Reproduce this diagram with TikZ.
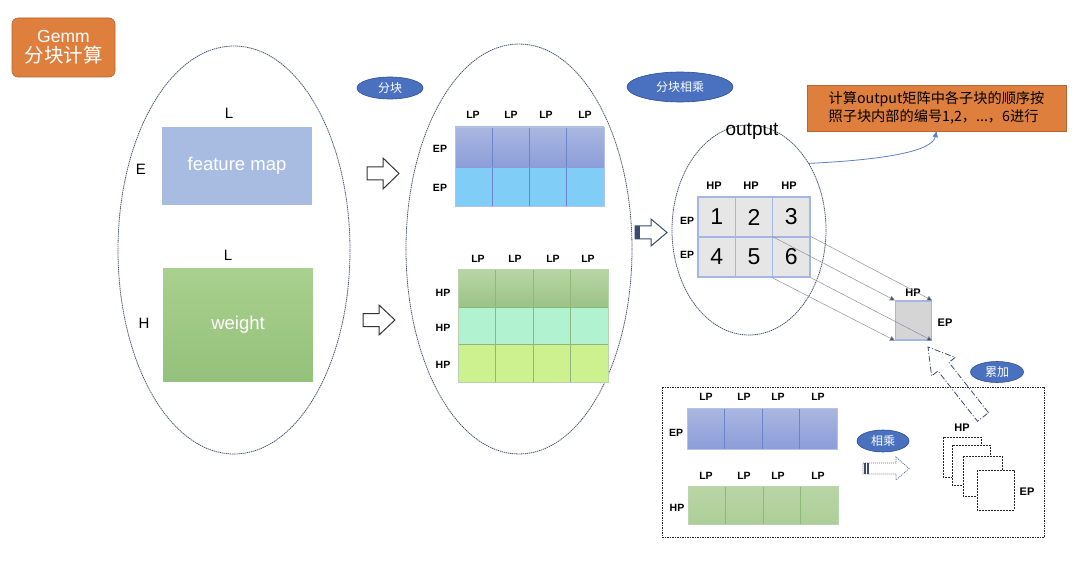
\documentclass[tikz,border=0pt]{standalone}
\usepackage{fontspec}
\setmainfont{Liberation Sans}
\newfontfamily\cjk{Noto Sans CJK SC}
\usetikzlibrary{shapes.geometric,arrows.meta,calc}
\definecolor{orng}{HTML}{DF7F3E}
\definecolor{orngdark}{HTML}{B8642C}
\definecolor{ellline}{HTML}{4A5572}
\definecolor{tagfill}{HTML}{4A70C0}
\definecolor{tagline}{HTML}{2E4F8F}
\definecolor{fmblue}{HTML}{A8BCE2}
\definecolor{wtop}{HTML}{A9D08E}
\definecolor{wbot}{HTML}{94C17B}
\definecolor{btop}{HTML}{AAB7E0}
\definecolor{bbot}{HTML}{8C9DD9}
\definecolor{bline}{HTML}{6C84C8}
\definecolor{skyb}{HTML}{80CDF7}
\definecolor{gtop}{HTML}{B8D6A4}
\definecolor{gbot}{HTML}{9CC288}
\definecolor{gline}{HTML}{8DB87A}
\definecolor{mint}{HTML}{B1F2D0}
\definecolor{lime}{HTML}{CCF18E}
\definecolor{cellgray}{HTML}{E6E6E6}
\definecolor{cellline}{HTML}{A3B6E4}
\definecolor{sqgray}{HTML}{D5D5D5}
\definecolor{projline}{HTML}{8C909C}
\definecolor{projtip}{HTML}{3F4E6E}
\definecolor{curveblue}{HTML}{5B80C8}
\definecolor{arrdark}{HTML}{3B4B70}
\tikzset{
  bigell/.style={ellipse, draw=ellline, line width=0.8pt, dash pattern=on 1.4pt off 0.7pt, inner sep=0pt},
  tag/.style={ellipse, fill=tagfill, draw=tagline, line width=0.6pt, text=white, inner sep=0pt, font=\cjk\fontsize{12}{14}\selectfont},
  lbl/.style={font=\bfseries\fontsize{10.5}{12}\selectfont, inner sep=0pt},
  biglbl/.style={font=\fontsize{15}{17}\selectfont, inner sep=0pt},
  numcell/.style={draw=cellline, line width=1.2pt, fill=cellgray, minimum width=37.33pt, minimum height=40pt, inner sep=0pt, font=\fontsize{23}{26}\selectfont},
  hollow/.style={draw=black!80, line width=1pt, fill=white, line join=miter},
  proj/.style={draw=projline, line width=0.5pt, -{Triangle[length=5pt,width=5pt,fill=projtip]}},
  dsq/.style={draw=black!85, fill=white, line width=0.8pt, dash pattern=on 2pt off 1pt}
}
\begin{document}
\begin{tikzpicture}[x=1pt,y=-1pt]
\useasboundingbox (0,0) rectangle (1080,567);
\fill[white] (0,0) rectangle (1080,567);

% title box
\node[fill=orng, draw=orngdark, line width=0.6pt, rounded corners=6pt, minimum width=103pt, minimum height=59pt, text=white, align=center, inner sep=0pt, font=\fontsize{17.5}{21}\selectfont] (gemm) at (63.5,47.5) {Gemm\\[-1pt]{\cjk\fontsize{19.5}{22}\selectfont 分块计算}};

% big ellipses
\node[bigell, minimum width=232pt, minimum height=408pt] (e1) at (234,250) {};
\node[bigell, minimum width=226pt, minimum height=410pt] (e2) at (519,249) {};
\node[bigell, minimum width=154pt, minimum height=210pt] (e3) at (749,230) {};

% left ellipse content
\node[biglbl] (lL1) at (229,113) {L};
\node[fill=fmblue, minimum width=150pt, minimum height=78pt, inner sep=0pt, text=white, font=\fontsize{18.5}{21}\selectfont] (fm) at (237,166) {feature map};
\node[biglbl] (lE) at (141,169) {E};
\node[biglbl] (lL2) at (228,255) {L};
\node[top color=wtop, bottom color=wbot, minimum width=150pt, minimum height=113pt, inner sep=0pt, text=white, font=\fontsize{18.5}{21}\selectfont] (wt) at (238,324.5) {weight};
\node[biglbl] (lH) at (144,323) {H};

% hollow arrows
\draw[hollow] (367,167) -- (383,167) -- (383,158) -- (399,173.5) -- (383,189) -- (383,180) -- (367,180) -- cycle;
\draw[hollow] (363,313.5) -- (379,313.5) -- (379,305) -- (395,320) -- (379,335) -- (379,326.5) -- (363,326.5) -- cycle;

% tags
\node[tag, minimum width=66pt, minimum height=22pt] (t1) at (390,88) {分块};
\node[tag, minimum width=106pt, minimum height=30pt] (t2) at (680,87) {分块相乘};

% grid 1 (feature map blocks)
\shade[top color=btop, bottom color=bbot] (455,127) rectangle (604,167);
\fill[skyb] (455,167) rectangle (604,206);
\foreach \i in {1,2,3} \draw[bline, line width=0.8pt] ({455+37.25*\i},127) -- ({455+37.25*\i},206);
\draw[bline!80, line width=0.8pt] (455,167) -- (604,167);
\draw[bline!50, line width=0.5pt] (455,127) rectangle (604,206);
\foreach \x [count=\k] in {473,511,546,585} \node[lbl] (g1lp\k) at (\x,115) {LP};
\node[lbl] (g1ep1) at (440,149) {EP};
\node[lbl] (g1ep2) at (440,188) {EP};

% grid 2 (weight blocks)
\shade[top color=gtop, bottom color=gbot] (458,269) rectangle (608,307);
\fill[mint] (458,307) rectangle (608,344);
\fill[lime] (458,344) rectangle (608,382);
\foreach \i in {1,2,3} \draw[gline, line width=0.8pt] ({458+37.5*\i},269) -- ({458+37.5*\i},382);
\draw[gline, line width=0.8pt] (458,307) -- (608,307) (458,344) -- (608,344);
\draw[gline!60, line width=0.5pt] (458,269) rectangle (608,382);
\foreach \x [count=\k] in {478,515,553,588} \node[lbl] (g2lp\k) at (\x,259) {LP};
\node[lbl] (g2hp1) at (443,293) {HP};
\node[lbl] (g2hp2) at (443,328) {HP};
\node[lbl] (g2hp3) at (443,365) {HP};

% arrow into output
\draw[draw=arrdark, line width=1pt, fill=white] (635,226) -- (651,226) -- (651,219) -- (667,232.5) -- (651,246) -- (651,239) -- (635,239) -- cycle;
\fill[arrdark] (635,226) rectangle (640,239);

% output
\node[font=\fontsize{19}{21}\selectfont, inner sep=0pt] (outlbl) at (752,131) {output};
\node[numcell] (c1) at (716.67,217) {1};
\node[numcell] (c2) at (754,217) {2};
\node[numcell] (c3) at (791.33,217) {3};
\node[numcell] (c4) at (716.67,257) {4};
\node[numcell] (c5) at (754,257) {5};
\node[numcell] (c6) at (791.33,257) {6};
\foreach \x [count=\k] in {714,751,789} \node[lbl, font=\bfseries\fontsize{11}{12}\selectfont] (ohp\k) at (\x,186) {HP};
\node[lbl] (oep1) at (687,221) {EP};
\node[lbl] (oep2) at (687,255) {EP};

% note box
\node[fill=orng, draw=orng!80!black, line width=0.4pt, minimum width=259pt, minimum height=46pt, inner sep=0pt, align=left, font=\cjk\fontsize{14.2}{17.5}\selectfont] (note) at (936.5,108) {计算output矩阵中各子块的顺序按\\照子块内部的编号1,2，...，6进行};
\draw[curveblue, line width=0.8pt, -{Triangle[length=6pt,width=5pt]}] (e3.48) .. controls (880,160) and (932,152) .. (note.south);

% projected square
\node[fill=sqgray, draw=cellline, line width=1.2pt, minimum width=36pt, minimum height=39pt, inner sep=0pt] (sq) at (913.5,320.5) {};
\node[lbl, font=\bfseries\fontsize{11}{12}\selectfont] (sqhp) at (913,293) {HP};
\node[lbl, font=\bfseries\fontsize{11}{12}\selectfont] (sqep) at (945,323) {EP};
\foreach \a in {north west,north east,south west,south east}
  \draw[proj] (c6.\a) -- (sq.\a);

% accumulate arrow (dash-dot outline)
\draw[draw=arrdark, line width=0.8pt, dash pattern=on 6pt off 2pt on 1pt off 2pt, line join=miter]
  (988.5,412.7) -- (948.9,362.4) -- (955.2,357.4) -- (928,347) -- (931.6,376.0) -- (937.9,371.0) -- (977.5,421.3) -- cycle;
\node[tag, minimum width=53pt, minimum height=21pt] (t3) at (997,372) {累加};

% bottom dotted box
\draw[black!85, line width=1pt, dash pattern=on 1.5pt off 1pt] (662,387) rectangle (1044,537);

% bottom blue bar
\shade[top color=btop, bottom color=bbot] (687,408) rectangle (837,449);
\foreach \i in {1,2,3} \draw[bline, line width=0.8pt] ({687+37.5*\i},408) -- ({687+37.5*\i},449);
\draw[bline!50, line width=0.5pt] (687,408) rectangle (837,449);
\foreach \x [count=\k] in {706,744,778,818} \node[lbl] (b1lp\k) at (\x,397) {LP};
\node[lbl] (b1ep) at (676,433) {EP};

% bottom green bar
\shade[top color=gtop, bottom color=gtop!60!gbot] (688,486) rectangle (838,524);
\foreach \i in {1,2,3} \draw[gline, line width=0.8pt] ({688+37.5*\i},486) -- ({688+37.5*\i},524);
\draw[gline!60, line width=0.5pt] (688,486) rectangle (838,524);
\foreach \x [count=\k] in {706,744,778,818} \node[lbl] (b2lp\k) at (\x,476) {LP};
\node[lbl] (b2hp) at (677,508) {HP};

% multiply tag and dotted arrow
\node[tag, minimum width=52pt, minimum height=22pt] (t4) at (883,441) {相乘};
\draw[draw=arrdark!80, line width=0.8pt, dash pattern=on 1pt off 1pt] (863,463) -- (896,463) -- (896,457) -- (909,468.5) -- (896,480) -- (896,474) -- (863,474) -- cycle;
\foreach \xx in {864,865.5,867,868.5} \draw[arrdark, line width=0.6pt] (\xx,463) -- (\xx,474);

% stacked partial results
\draw[dsq] (943,437) rectangle (981,477);
\draw[dsq] (952,445) rectangle (990,485);
\draw[dsq] (963,456) rectangle (1002,496);
\draw[dsq] (977,470) rectangle (1014,510);
\node[lbl, font=\bfseries\fontsize{11}{12}\selectfont] (sthp) at (962,428) {HP};
\node[lbl, font=\bfseries\fontsize{11}{12}\selectfont] (step) at (1027,492) {EP};
\end{tikzpicture}
\end{document}
